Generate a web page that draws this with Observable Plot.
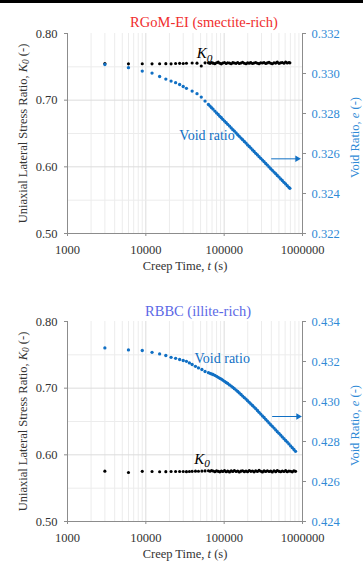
<!DOCTYPE html>
<html><head><meta charset="utf-8">
<script src="https://cdn.jsdelivr.net/npm/d3@7"></script>
<script src="https://cdn.jsdelivr.net/npm/@observablehq/plot@0.6"></script>
<style>
html,body{margin:0;padding:0;background:#fff;}
#wrap{width:363px;height:565px;overflow:hidden;border-top:3px solid #000;box-sizing:border-box;}
#wrap svg{display:block;}
</style></head><body><div id="wrap"></div>
<script>
// ---------- data ----------
const tTop = [3000,6000,9000,12000,15000,18000,21000,24000,27000,30000,33000,39000,45000,51000,57000,
  63000,66000,69000,72000,76000,80000,84000,88000,92000,96000,101000,106000,111000,117000,123000,129000,135000,142000,149000,156000,
  164000,172000,181000,190000,199000,209000,219000,230000,241000,253000,266000,279000,293000,308000,323000,339000,356000,374000,393000,412000,
  433000,455000,477000,501000,526000,552000,580000,609000,639000,671000,690000];
const k0Top = [0.7550,0.7545,0.7546,0.7545,0.7547,0.7548,0.7545,0.7549,0.7552,0.7550,0.7554,0.7557,0.7555,0.7512,0.7560,
  0.7560,0.7552,0.7566,0.7555,0.7548,0.7562,0.7570,0.7553,0.7545,0.7558,0.7566,0.7550,0.7561,0.7556,0.7547,0.7563,0.7558,0.7552,0.7565,0.7549,
  0.7557,0.7568,0.7554,0.7546,0.7560,0.7555,0.7563,0.7550,0.7558,0.7566,0.7553,0.7548,0.7561,0.7557,0.7565,0.7551,0.7559,0.7568,0.7554,0.7547,
  0.7562,0.7556,0.7570,0.7552,0.7560,0.7565,0.7553,0.7572,0.7558,0.7566,0.7560];
const eTop = [0.33045,0.33029,0.33012,0.33002,0.32985,0.32972,0.32962,0.32954,0.32945,0.32935,0.32926,0.32912,0.32899,0.32882,0.32862,
  0.32845,0.32837,0.32829,0.32822,0.32812,0.32803,0.32795,0.32786,0.32779,0.32771,0.32762,0.32754,0.32746,0.32737,0.32728,0.32719,0.32712,0.32703,0.32694,0.32686,
  0.32677,0.32669,0.32660,0.32652,0.32643,0.32635,0.32627,0.32618,0.32610,0.32601,0.32593,0.32584,0.32576,0.32567,0.32559,0.32550,0.32542,0.32533,0.32524,0.32516,
  0.32507,0.32499,0.32490,0.32482,0.32473,0.32465,0.32456,0.32448,0.32439,0.32431,0.32426];

const tBot = [3000,6000,9000,12000,15000,18000,21000,24000,27000,30000,33000,36000,39000,43000,47000,52000,57000,
  63000,66000,69000,72000,76000,80000,84000,88000,92000,96000,101000,106000,111000,117000,123000,129000,135000,142000,149000,156000,
  164000,172000,181000,190000,199000,209000,219000,230000,241000,253000,266000,279000,293000,308000,323000,339000,356000,374000,393000,412000,
  433000,455000,477000,501000,526000,552000,580000,609000,639000,671000,705000,740000,777000,815000];
const k0Bot = [0.5755,0.5735,0.5752,0.5750,0.5747,0.5748,0.5750,0.5749,0.5751,0.5750,0.5748,0.5750,0.5752,0.5755,0.5753,0.5756,0.5759,
  0.5762,0.5754,0.5766,0.5757,0.5748,0.5760,0.5752,0.5745,0.5758,0.5750,0.5763,0.5747,0.5756,0.5744,0.5759,0.5751,0.5766,0.5749,0.5757,0.5743,
  0.5755,0.5762,0.5748,0.5758,0.5746,0.5764,0.5752,0.5757,0.5745,0.5760,0.5750,0.5767,0.5753,0.5744,0.5759,0.5749,0.5762,0.5751,0.5756,0.5743,
  0.5761,0.5748,0.5765,0.5752,0.5746,0.5758,0.5750,0.5763,0.5747,0.5757,0.5753,0.5745,0.5760,0.5752];
const eBot = [0.43268,0.43258,0.43255,0.43246,0.43238,0.43230,0.43221,0.43216,0.43210,0.43205,0.43201,0.43193,0.43185,0.43176,0.43168,0.43160,0.43150,
  0.43144,0.43141,0.43138,0.43135,0.43131,0.43126,0.43121,0.43116,0.43112,0.43107,0.43101,0.43095,0.43090,0.43083,0.43077,0.43071,0.43064,0.43057,0.43050,0.43043,
  0.43035,0.43027,0.43019,0.43012,0.43004,0.42996,0.42988,0.42980,0.42972,0.42964,0.42955,0.42946,0.42937,0.42928,0.42920,0.42911,0.42902,0.42893,0.42884,0.42876,
  0.42867,0.42858,0.42849,0.42841,0.42832,0.42823,0.42814,0.42805,0.42797,0.42788,0.42778,0.42769,0.42760,0.42751];

const xTicks = [1000, 10000, 100000, 1000000];
const kTicks = [0.50, 0.60, 0.70, 0.80];
const kMinor = [0.55, 0.65, 0.75];
const eTicksTop = [0.322, 0.324, 0.326, 0.328, 0.330, 0.332];
const eTicksBot = [0.424, 0.426, 0.428, 0.430, 0.432, 0.434];

const titles = ["RGoM-EI (smectite-rich)", "RBBC (illite-rich)"];
const leftLabel = "Uniaxial Lateral Stress Ratio, K0 (-)";
const rightLabel = "Void Ratio, e (-)";
const xLabel = "Creep Time, t (s)";
// annotation anchors in data units (time, K0-axis value)
const annTop = [{t: 56100, k: 0.770, label: "K0"}, {t: 60400, k: 0.647, label: "Void ratio"}];
const annBot = [{t: 52400, k: 0.594, label: "K0"}, {t: 94400, k: 0.744, label: "Void ratio"}];
const arrowTop = [{t1: 398000, t2: 855000, k: 0.612}];
const arrowBot = [{t1: 410000, t2: 881000, k: 0.6575}];

// ---------- drawing ----------
const FONT = "'Liberation Serif', 'Times New Roman', serif";
const DOT_BLUE = "#1170c4";
const AX_BLUE = "#2f8ad6";
const INK = "#333";
const svgNS = "http://www.w3.org/2000/svg";

const RICH = {
  "Uniaxial Lateral Stress Ratio, K0 (-)": [["Uniaxial Lateral Stress Ratio, "], ["K", "i"], ["0", "sub"], [" (-)", "after"]],
  "Void Ratio, e (-)": [["Void Ratio, "], ["e", "i"], [" (-)"]],
  "Creep Time, t (s)": [["Creep Time, "], ["t", "i"], [" (s)"]],
  "K0": [["K", "i"], ["0", "sub"]]
};
function enrich(svg) {
  svg.querySelectorAll("text").forEach(el => {
    const parts = RICH[el.textContent];
    if (!parts || el.children.length) return;
    el.textContent = "";
    for (const [s, kind] of parts) {
      const ts = document.createElementNS(svgNS, "tspan");
      ts.textContent = s;
      if (kind === "i" || kind === "sub") ts.setAttribute("font-style", "italic");
      if (kind === "sub") { ts.setAttribute("font-size", "0.75em"); ts.setAttribute("dy", "0.3em"); }
      if (kind === "after") ts.setAttribute("dy", "-0.225em");
      el.appendChild(ts);
    }
  });
}

function makeChart(o) {
  const toK = e => 0.5 + (e - o.eMin) * 30;
  const rows = o.t.map((t, i) => ({t, k: o.k[i], ek: toK(o.e[i])})).filter(d => d.k != null && !isNaN(d.ek));
  const minorX = [1e3, 1e4, 1e5].flatMap(d => d3.range(2, 10).map(m => m * d));
  const svg = Plot.plot({
    width: 363, height: o.height,
    marginLeft: 67, marginRight: 61, marginTop: o.mt, marginBottom: o.mb,
    style: {fontFamily: FONT, fontSize: "12.5px", color: INK, background: "#fff", overflow: "visible"},
    x: {type: "log", domain: [1000, 1000000]},
    y: {domain: [0.5, 0.8]},
    marks: [
      Plot.gridX(minorX, {stroke: "#ececec", strokeOpacity: 1}),
      Plot.gridX(xTicks.slice(1, 3), {stroke: "#dcdcdc", strokeOpacity: 1}),
      Plot.gridY(kMinor, {stroke: "#ececec", strokeOpacity: 1}),
      Plot.gridY(kTicks.slice(1, 3), {stroke: "#dcdcdc", strokeOpacity: 1}),
      Plot.ruleX([1000, 1000000], {stroke: "#8c8c8c"}),
      Plot.ruleY([0.5], {stroke: "#8c8c8c"}),
      Plot.dot(rows, {x: "t", y: "k", r: 1.55, fill: "#000"}),
      Plot.dot(rows, {x: "t", y: "ek", r: 1.65, fill: DOT_BLUE}),
      Plot.text(o.ann.slice(0, 1), {x: "t", y: "k", text: "label", fontSize: 15, fill: "#000"}),
      Plot.text(o.ann.slice(1), {x: "t", y: "k", text: "label", fontSize: 14, fill: DOT_BLUE}),
      Plot.link(o.arrow, {x1: "t1", x2: "t2", y1: "k", y2: "k", stroke: DOT_BLUE, strokeWidth: 1}),
      Plot.dot(o.arrow, {x: "t2", y: "k", symbol: "triangle", rotate: 90, r: 2.4, fill: DOT_BLUE}),
      Plot.axisX(xTicks, {tickFormat: d => String(d), tickSize: 3, tickPadding: 9, stroke: "#8c8c8c", fill: INK, label: null}),
      Plot.axisY(kTicks, {tickFormat: d => d.toFixed(2), tickSize: 3, tickPadding: 7, stroke: "#8c8c8c", fill: INK, label: null}),
      Plot.axisY(o.eTicks.map(toK), {anchor: "right", tickFormat: k => ((k - 0.5) / 30 + o.eMin).toFixed(3),
        tickSize: 3, tickPadding: 6, stroke: "#8c8c8c", fill: AX_BLUE, label: null}),
      Plot.text([o.title], {text: d => d, frameAnchor: "top", dx: o.tdx, dy: o.tdy, fontSize: 14.5, fill: o.tcolor}),
      Plot.text([leftLabel], {text: d => d, frameAnchor: "left", textAnchor: "middle", dx: -45, rotate: -90, fontSize: 12.5, fill: INK}),
      Plot.text([rightLabel], {text: d => d, frameAnchor: "right", textAnchor: "middle", dx: 52, dy: 4, rotate: -90, fontSize: 12.5, fill: AX_BLUE}),
      Plot.text([xLabel], {text: d => d, frameAnchor: "bottom", dy: 36.5, fontSize: 12.5, fill: INK})
    ]
  });
  enrich(svg);
  return svg;
}

const wrap = document.getElementById("wrap");
wrap.appendChild(makeChart({
  t: tTop, k: k0Top, e: eTop, eMin: 0.322, eTicks: eTicksTop, ann: annTop, arrow: arrowTop,
  title: titles[0], tcolor: "#f02d2d", tdx: 19, tdy: -16.3, height: 275, mt: 30, mb: 45
}));
wrap.appendChild(makeChart({
  t: tBot, k: k0Bot, e: eBot, eMin: 0.424, eTicks: eTicksBot, ann: annBot, arrow: arrowBot,
  title: titles[1], tcolor: "#5b68e6", tdx: 13, tdy: -16, height: 287, mt: 43, mb: 44
}));
</script>
</body></html>
